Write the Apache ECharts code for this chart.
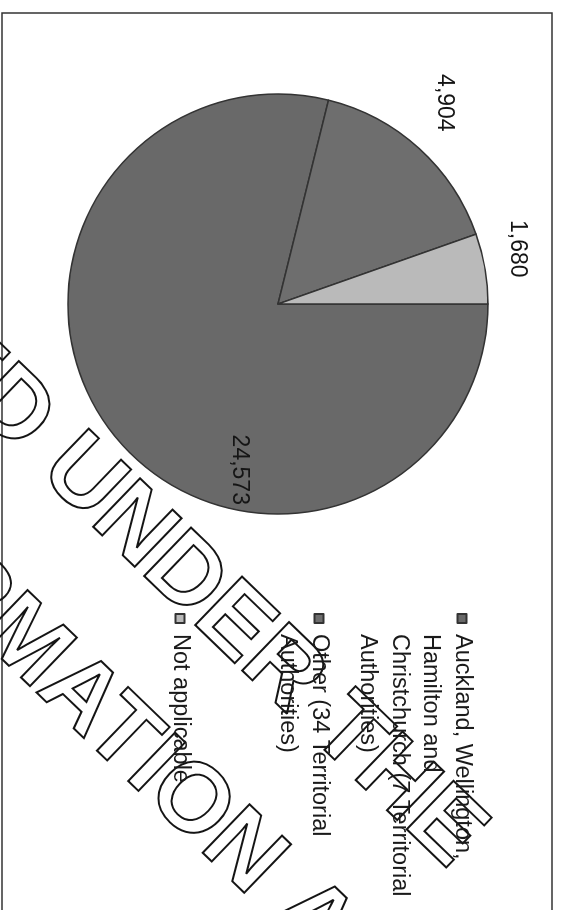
<!DOCTYPE html>
<html>
<head>
<meta charset="utf-8">
<script src="https://cdn.jsdelivr.net/npm/echarts@6/dist/echarts.min.js"></script>
<style>
  html, body { margin: 0; padding: 0; background: #fff; overflow: hidden; }
  body { width: 562px; height: 910px; position: relative; }
  /* the scanned page is turned a quarter turn clockwise, so the chart is drawn upright and rotated */
  #chart {
    position: absolute; left: 562px; top: 0;
    width: 910px; height: 562px;
    transform-origin: 0 0; transform: rotate(90deg);
  }
</style>
</head>
<body>
<div id="chart"></div>
<script>
// data
const categories = [
  'Auckland, Wellington, Hamilton and Christchurch (7 Territorial Authorities)',
  'Other (34 Territorial Authorities)',
  'Not applicable'
];
const values = [24573, 4904, 1680];
const legendText = [
  'Auckland, Wellington,\nHamilton and\nChristchurch (7 Territorial\nAuthorities)',
  'Other (34 Territorial\nAuthorities)',
  'Not applicable'
];
const colors = ['#696969', '#6e6e6e', '#bababa'];

// layout (unrotated chart coordinates)
const center = [304, 284];
const radius = 210;
const fontFamily = '"Liberation Sans", Arial, sans-serif';
const legendLine = 31.5;
const legendIconCenters = [100, 243, 382];
// label placement: angle shift (deg) from slice middle, distance in radii
const labelShift = [-39, -2.6, -3.3];
const labelDist = [0.81, 1.244, 1.168];

const total = values.reduce((a, b) => a + b, 0);
const labelPos = [];
let acc = 0;
values.forEach((v, i) => {
  const mid = (acc + v / 2) / total * 360 + labelShift[i];
  acc += v;
  const a = mid * Math.PI / 180;
  const d = labelDist[i] * radius;
  labelPos.push([center[0] + d * Math.sin(a), center[1] - d * Math.cos(a)]);
});

const chart = echarts.init(document.getElementById('chart'));

// legend text is centred on its icon, so blank lines above keep the icon on the first line
const legends = categories.map((name, i) => {
  const n = legendText[i].split('\n').length;
  return {
    data: [name],
    orient: 'vertical',
    left: 613,
    top: legendIconCenters[i] - (2 * n - 1) * legendLine / 2,
    padding: 0,
    icon: 'rect',
    itemWidth: 9,
    itemHeight: 9,
    selectedMode: false,
    formatter: () => '\n'.repeat(n - 1) + legendText[i],
    textStyle: {
      fontFamily: fontFamily,
      fontSize: 23.5,
      lineHeight: legendLine,
      color: '#1a1a1a',
      padding: [0, 0, 0, 6],
      backgroundColor: 'rgba(0,0,0,0)'
    }
  };
});

const watermark = [
  { text: 'RELEASED UNDER THE', x: 64, y: 909 },
  { text: 'OFFICIAL INFORMATION ACT', x: 70, y: 1131 }
].map(w => ({
  type: 'text',
  x: w.x,
  y: w.y,
  rotation: 46 * Math.PI / 180,
  z: 1,
  silent: true,
  style: {
    text: w.text,
    font: 'bold 98px "Liberation Sans", Arial, sans-serif',
    fill: 'none',
    stroke: '#141414',
    lineWidth: 2,
    align: 'left',
    verticalAlign: 'middle'
  }
}));

const option = {
  animation: false,
  color: colors,
  legend: legends,
  graphic: [
    {
      type: 'rect',
      z: 1,
      silent: true,
      shape: { x: 13, y: 10, width: 920, height: 550 },
      style: { fill: 'none', stroke: '#333', lineWidth: 1.5 }
    },
    ...watermark
  ],
  series: [
    {
      type: 'pie',
      center: center,
      radius: radius,
      startAngle: 90,
      clockwise: true,
      avoidLabelOverlap: false,
      silent: true,
      z: 2,
      itemStyle: { borderColor: '#333', borderWidth: 1.5 },
      label: {
        show: true,
        position: 'outside',
        fontFamily: fontFamily,
        fontSize: 23,
        color: '#151515',
        formatter: p => p.value.toLocaleString('en-US')
      },
      labelLine: { show: false },
      labelLayout: params => ({
        x: labelPos[params.dataIndex][0],
        y: labelPos[params.dataIndex][1],
        align: 'center',
        verticalAlign: 'middle'
      }),
      data: categories.map((name, i) => ({ name: name, value: values[i] }))
    }
  ]
};

chart.setOption(option);
</script>
</body>
</html>
